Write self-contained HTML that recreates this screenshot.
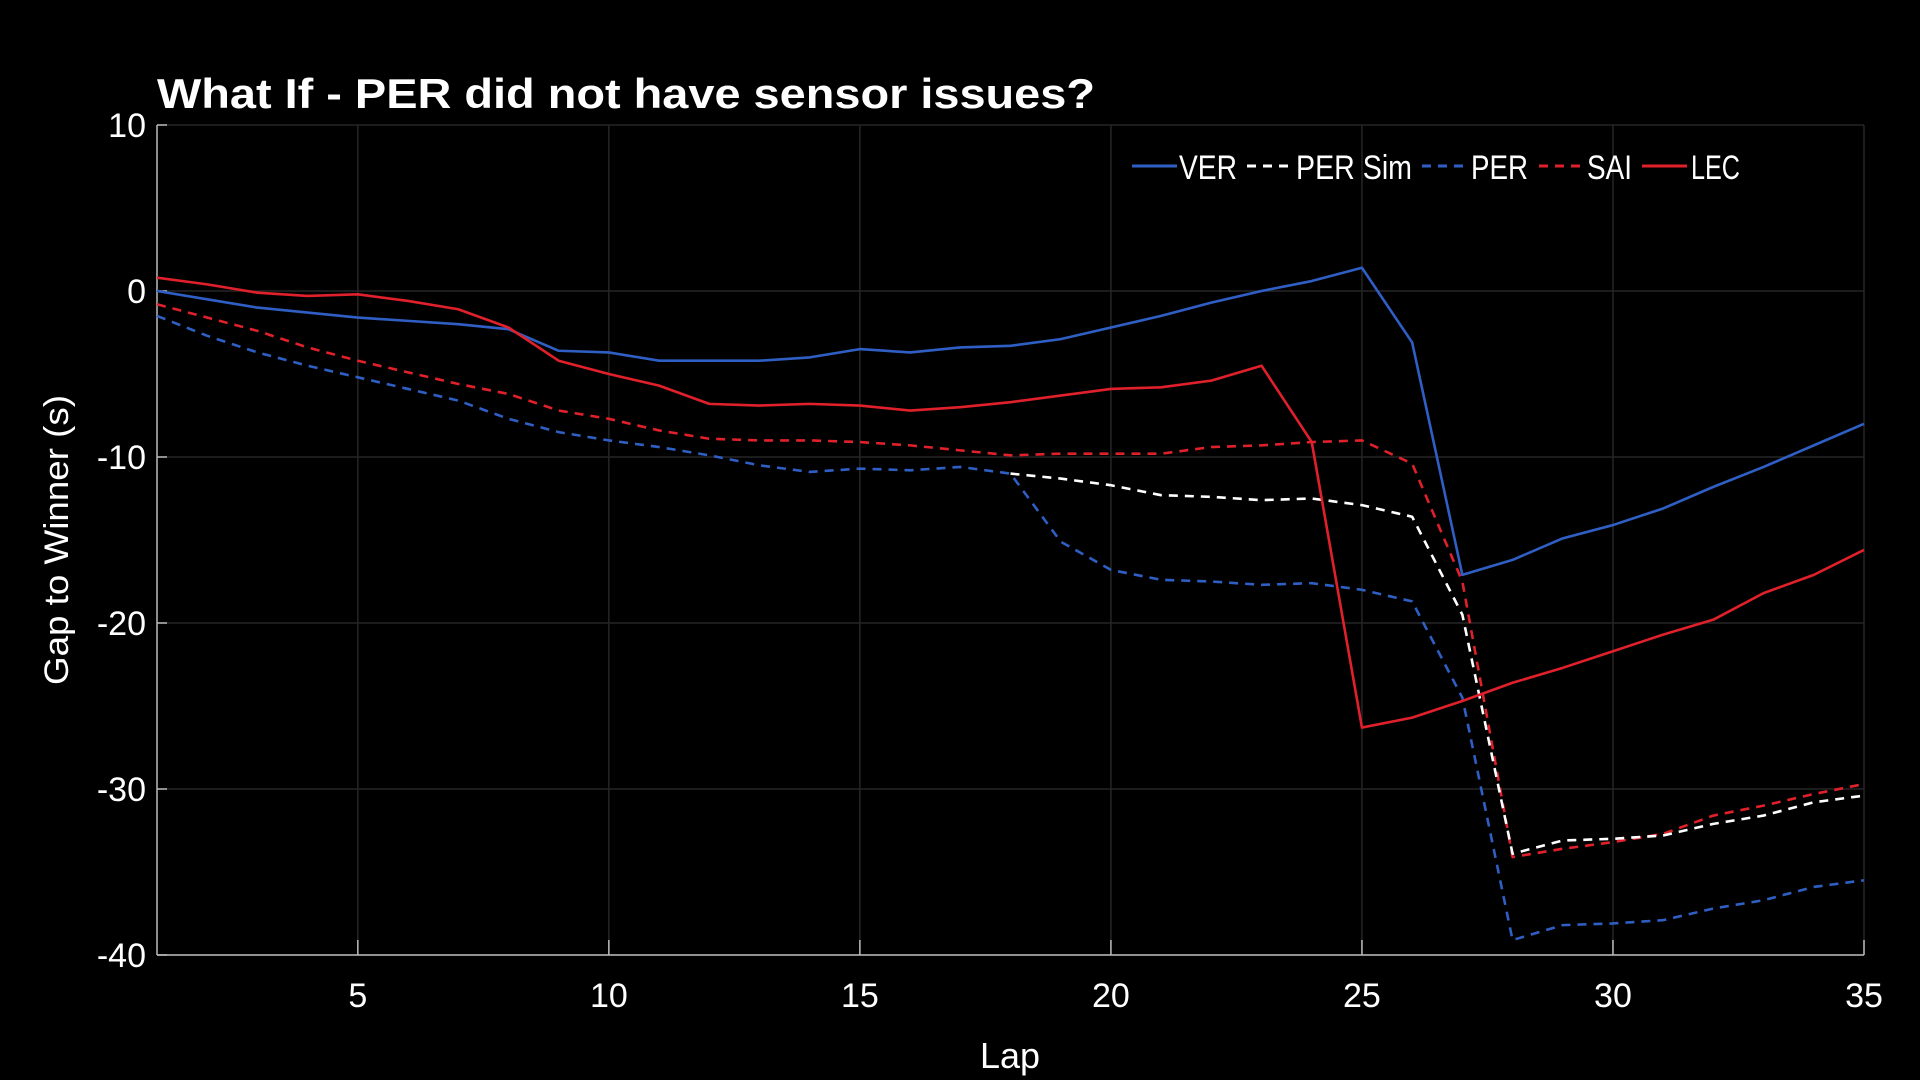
<!DOCTYPE html>
<html><head><meta charset="utf-8"><style>
html,body{margin:0;padding:0;background:#000;}
svg{display:block}
text{font-family:"Liberation Sans",sans-serif;fill:#fff}
</style></head><body>
<svg id="s" width="1920" height="1080" viewBox="0 0 1920 1080" xmlns="http://www.w3.org/2000/svg">
<rect width="1920" height="1080" fill="#000"/>
<g id="grid" stroke="#262626" stroke-width="1.5"></g>
<g id="axes"></g>
<g id="series" fill="none" stroke-width="2.6"></g>
<text x="157" y="108" font-size="42" font-weight="bold" textLength="938" lengthAdjust="spacingAndGlyphs">What If - PER did not have sensor issues?</text>
<text transform="translate(68,540) rotate(-90)" text-anchor="middle" font-size="34" textLength="290" lengthAdjust="spacingAndGlyphs">Gap to Winner (s)</text>
<text x="1010" y="1068" text-anchor="middle" font-size="36" textLength="60" lengthAdjust="spacingAndGlyphs">Lap</text>
<g id="legend"></g>
</svg>
<script>
const NS="http://www.w3.org/2000/svg";
const X=l=>157+(l-1)*(1707/34), Y=v=>125+(10-v)*16.6;
function el(p,t,a,txt){const e=document.createElementNS(NS,t);for(const k in a)e.setAttribute(k,a[k]);if(txt!==undefined)e.textContent=txt;document.getElementById(p).appendChild(e);return e;}
for(let v=10;v>=-40;v-=10){el('grid','line',{x1:157,x2:1864,y1:Y(v),y2:Y(v)});
 el('axes','text',{x:146,y:Y(v)+12,'text-anchor':'end','font-size':34},String(v));
 el('axes','line',{x1:157,x2:167,y1:Y(v),y2:Y(v),stroke:'#bbb','stroke-width':1.5});}
for(const l of [5,10,15,20,25,30,35]){el('grid','line',{x1:X(l),x2:X(l),y1:125,y2:955});
 el('axes','line',{x1:X(l),x2:X(l),y1:940,y2:955,stroke:'#bbb','stroke-width':1.5});
 el('axes','text',{x:X(l),y:1007,'text-anchor':'middle','font-size':34},l);}
el('axes','line',{x1:157,x2:157,y1:125,y2:955,stroke:'#bbb','stroke-width':1.5});
el('axes','line',{x1:157,x2:1864,y1:955,y2:955,stroke:'#bbb','stroke-width':1.5});
const VER=[0,-.5,-1,-1.3,-1.6,-1.8,-2,-2.3,-3.6,-3.7,-4.2,-4.2,-4.2,-4,-3.5,-3.7,-3.4,-3.3,-2.9,-2.2,-1.5,-.7,0,.6,1.4,-3.1,-17.1,-16.2,-14.9,-14.1,-13.1,-11.8,-10.6,-9.3,-8];
const LEC=[.8,.4,-.1,-.3,-.2,-.6,-1.1,-2.2,-4.2,-5,-5.7,-6.8,-6.9,-6.8,-6.9,-7.2,-7,-6.7,-6.3,-5.9,-5.8,-5.4,-4.5,-9.1,-26.3,-25.7,-24.7,-23.6,-22.7,-21.7,-20.7,-19.8,-18.2,-17.1,-15.6];
const SAI=[-.8,-1.6,-2.4,-3.4,-4.2,-4.9,-5.6,-6.2,-7.2,-7.7,-8.4,-8.9,-9,-9,-9.1,-9.3,-9.6,-9.9,-9.8,-9.8,-9.8,-9.4,-9.3,-9.1,-9,-10.4,-17.5,-34.1,-33.6,-33.2,-32.7,-31.6,-31,-30.3,-29.7];
const PER=[-1.5,-2.7,-3.7,-4.5,-5.2,-5.9,-6.6,-7.7,-8.5,-9,-9.4,-9.9,-10.5,-10.9,-10.7,-10.8,-10.6,-11,-15.1,-16.8,-17.4,-17.5,-17.7,-17.6,-18,-18.7,-24.5,-39.1,-38.2,-38.1,-37.9,-37.2,-36.7,-35.9,-35.5];
const SIM=[-11,-11.3,-11.7,-12.3,-12.4,-12.6,-12.5,-12.9,-13.6,-19.5,-33.9,-33.1,-33,-32.8,-32.1,-31.6,-30.8,-30.4];
function line(d,start,c,dash){el('series','polyline',{points:d.map((v,i)=>X(i+start)+','+Y(v)).join(' '),stroke:c,'stroke-dasharray':dash||'none','stroke-linejoin':'round'});}
const BLUE='#2f5fc4',RED='#e0202a',DASH='9,7';
line(PER,1,BLUE,DASH);line(SAI,1,RED,DASH);line(SIM,18,'#fff',DASH);line(VER,1,BLUE);line(LEC,1,RED);
const L=[['VER',BLUE,null,1132,1179,58],['PER Sim','#fff',DASH,1247,1296,116],['PER',BLUE,DASH,1422,1471,57],['SAI',RED,DASH,1539,1587,45],['LEC',RED,null,1642,1691,49]];
for(const [t,c,d,x1,tx,w] of L){el('legend','line',{x1:x1,x2:x1+45,y1:166,y2:166,stroke:c,'stroke-width':3,'stroke-dasharray':d||'none'});
 el('legend','text',{x:tx,y:179,'font-size':34,textLength:w,lengthAdjust:'spacingAndGlyphs'},t);}
</script>
</body></html>
